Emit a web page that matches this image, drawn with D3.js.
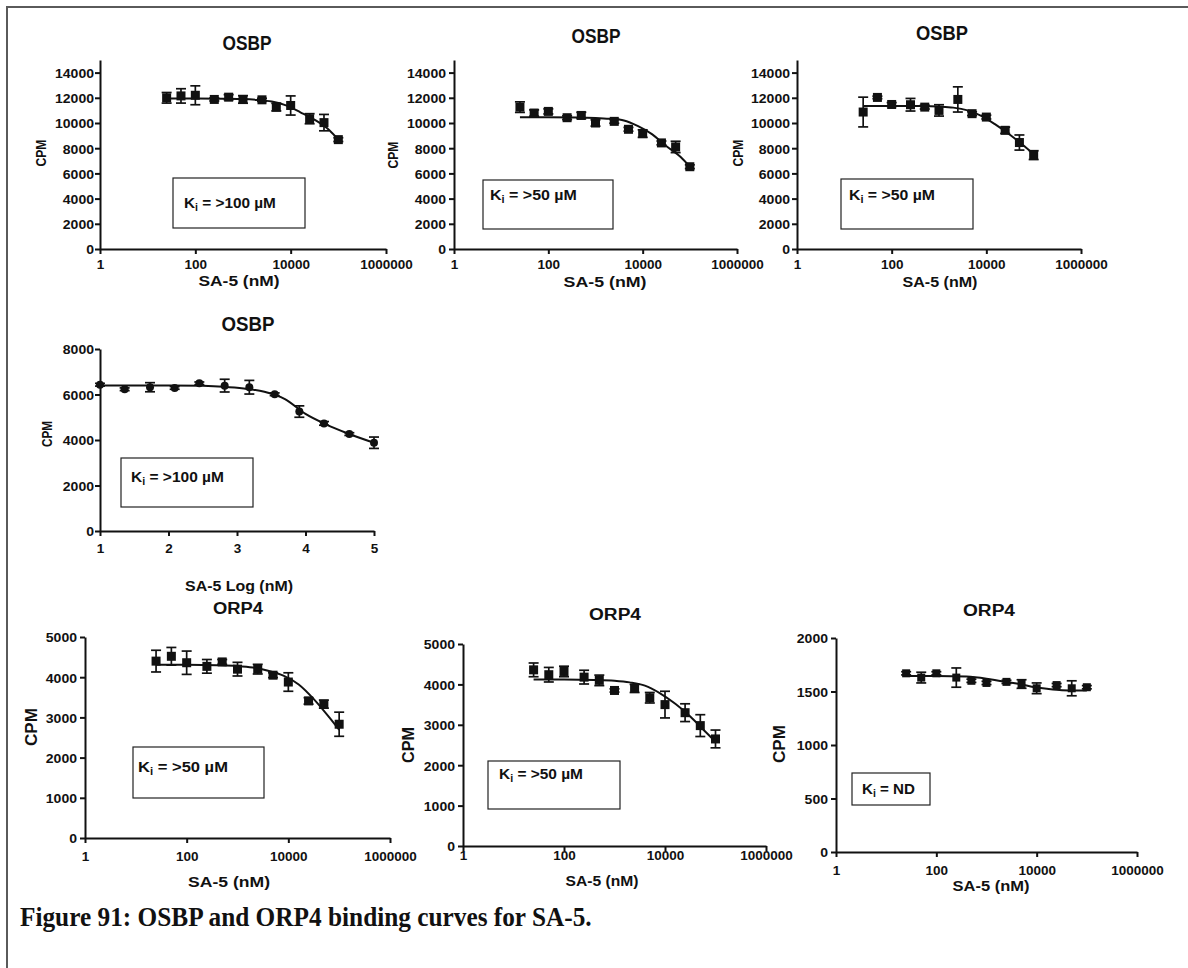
<!DOCTYPE html>
<html>
<head>
<meta charset="utf-8">
<script src="https://cdn.jsdelivr.net/npm/d3@7"></script>
<style>
  html, body { margin: 0; padding: 0; background: #fff; }
  svg { display: block; }
</style>
</head>
<body>
<svg id="fig" width="1188" height="968"></svg>
<script>
const SANS = "'Liberation Sans', Arial, Helvetica, sans-serif";
const SERIF = "'Liberation Serif', 'Times New Roman', serif";
const INK = "#111";

// Concentrations tested (nM) and their log10 values
const concNM = [25, 50, 100, 250, 500, 1000, 2500, 5000, 10000, 25000, 50000, 100000];
const logConcNM = [1.00, 1.36, 1.73, 2.09, 2.45, 2.82, 3.18, 3.55, 3.91, 4.27, 4.64, 5.00];

// x positions at which the fitted curves are traced
const fitConcNM = [25, 100, 400, 1000, 2000, 4000, 8000, 16000, 32000, 64000, 100000];
const fitLogConc = [1.0, 1.5, 2.0, 2.5, 2.8, 3.1, 3.4, 3.7, 4.0, 4.3, 4.6, 5.0];

// Axis ticks
const xTicksNM = [1, 100, 10000, 1000000];
const xTicksLog = [1, 2, 3, 4, 5];
const yTicksOSBP = [0, 2000, 4000, 6000, 8000, 10000, 12000, 14000];
const yTicksOSBPLog = [0, 2000, 4000, 6000, 8000];
const yTicksORP4 = [0, 1000, 2000, 3000, 4000, 5000];
const yTicksORP4Low = [0, 500, 1000, 1500, 2000];

// OSBP, run 1
const osbp1Cpm = [12000, 12150, 12200, 11870, 12050, 11870, 11840, 11260, 11390, 10340, 10030, 8680];
const osbp1Sem = [420, 570, 750, 120, 200, 300, 120, 300, 760, 400, 650, 150];
const osbp1Fit = [11950, 11950, 11930, 11900, 11830, 11700, 11400, 10850, 10250, 9450, 8680];

// OSBP, run 2
const osbp2Cpm = [11260, 10790, 10920, 10420, 10600, 10000, 10130, 9500, 9160, 8420, 8100, 6530];
const osbp2Sem = [420, 250, 200, 150, 250, 250, 150, 150, 300, 150, 450, 150];
const osbp2Fit = [10450, 10450, 10440, 10400, 10330, 10200, 9750, 9100, 8150, 7300, 6530];

// OSBP, run 3
const osbp3Cpm = [10870, 12030, 11470, 11450, 11260, 11000, 11870, 10740, 10470, 9420, 8450, 7450];
const osbp3Sem = [1180, 100, 150, 500, 150, 450, 1000, 150, 150, 250, 600, 350];
const osbp3Fit = [11350, 11350, 11340, 11300, 11220, 11000, 10550, 9850, 9050, 8150, 7530];

// OSBP, log-concentration run
const osbpLogCpm = [6430, 6230, 6320, 6290, 6490, 6390, 6320, 6010, 5250, 4730, 4260, 3880];
const osbpLogSem = [60, 60, 200, 60, 60, 280, 300, 60, 250, 80, 60, 250];
const osbpLogFit = [6400, 6400, 6400, 6380, 6340, 6260, 6120, 5800, 5150, 4690, 4310, 3880];

// ORP4, run 1
const orp41Cpm = [4400, 4520, 4360, 4270, 4380, 4200, 4200, 4050, 3880, 3410, 3330, 2830];
const orp41Sem = [270, 220, 290, 170, 60, 170, 120, 60, 230, 80, 100, 300];
const orp41Fit = [4310, 4310, 4300, 4280, 4240, 4160, 4040, 3820, 3450, 3000, 2690];

// ORP4, run 2
const orp42Cpm = [4360, 4240, 4320, 4180, 4100, 3850, 3900, 3670, 3500, 3300, 2980, 2650];
const orp42Sem = [170, 180, 130, 170, 130, 40, 100, 130, 330, 220, 270, 220];
const orp42Fit = [4120, 4120, 4110, 4090, 4050, 3970, 3780, 3520, 3200, 2820, 2580];

// ORP4, run 3
const orp43Cpm = [1670, 1630, 1670, 1630, 1600, 1580, 1590, 1570, 1530, 1560, 1530, 1540];
const orp43Sem = [15, 50, 15, 90, 15, 15, 15, 40, 50, 15, 70, 15];
const orp43Fit = [1645, 1645, 1640, 1620, 1595, 1575, 1545, 1525, 1512, 1510, 1510];

const panelTitles = ["OSBP", "OSBP", "OSBP", "OSBP", "ORP4", "ORP4", "ORP4"];
const kiValues = [">100 µM", ">50 µM", ">50 µM", ">100 µM", ">50 µM", ">50 µM", "ND"];
const xAxisTitles = ["SA-5 (nM)", "SA-5 (nM)", "SA-5 (nM)", "SA-5 Log (nM)", "SA-5 (nM)", "SA-5 (nM)", "SA-5 (nM)"];
const yAxisTitle = "CPM";
const caption = "Figure 91: OSBP and ORP4 binding curves for SA-5.";

// Panel layout: plot area, label placement and marker style
const panels = [
  { log: true, x: concNM, fx: fitConcNM, y: osbp1Cpm, e: osbp1Sem, fit: osbp1Fit, xTicks: xTicksNM, yTicks: yTicksOSBP, yMax: 15000,
    x0: 100, x1: 386, yB: 249, yT: 60, title: [247, 50, 20, 49], cpm: [41, 153, 15, 27], xlab: [239, 286, 15, 81],
    xTickBase: 269, yTickRight: 94, ki: [173, 178, 305, 228], kiText: [184, 208, 92], marker: "square", ms: 9 },
  { log: true, x: concNM, fx: fitConcNM, y: osbp2Cpm, e: osbp2Sem, fit: osbp2Fit, xTicks: xTicksNM, yTicks: yTicksOSBP, yMax: 15000,
    x0: 454, x1: 737, yB: 249, yT: 60, title: [596, 43, 20, 49], cpm: [393, 155, 15, 27], xlab: [605, 287, 15, 83],
    xTickBase: 269, yTickRight: 446, ki: [483, 180, 613, 229], kiText: [490, 200, 87], marker: "square", ms: 9 },
  { log: true, x: concNM, fx: fitConcNM, y: osbp3Cpm, e: osbp3Sem, fit: osbp3Fit, xTicks: xTicksNM, yTicks: yTicksOSBP, yMax: 15000,
    x0: 797, x1: 1081, yB: 249, yT: 60, title: [942, 40, 20, 52], cpm: [738, 153, 15, 27], xlab: [940, 287, 15, 75],
    xTickBase: 269, yTickRight: 790, ki: [841, 179, 973, 229], kiText: [849, 200, 86], marker: "square", ms: 9 },
  { log: false, x: logConcNM, fx: fitLogConc, y: osbpLogCpm, e: osbpLogSem, fit: osbpLogFit, xTicks: xTicksLog, yTicks: yTicksOSBPLog, yMax: 8000,
    x0: 100, x1: 374, yB: 531, yT: 349, title: [248, 331, 20, 53], cpm: [47, 434, 15, 26], xlab: [239, 591, 15, 108],
    xTickBase: 553, yTickRight: 94, ki: [121, 458, 253, 507], kiText: [131, 482, 93], marker: "circle", ms: 8 },
  { log: true, x: concNM, fx: fitConcNM, y: orp41Cpm, e: orp41Sem, fit: orp41Fit, xTicks: xTicksNM, yTicks: yTicksORP4, yMax: 5000,
    x0: 85, x1: 390, yB: 838, yT: 637, title: [238, 614, 17, 50], cpm: [31, 727, 16, 38], xlab: [229, 887, 15, 82],
    xTickBase: 861, yTickRight: 77, ki: [133, 747, 264, 798], kiText: [138, 772, 90], marker: "square", ms: 9 },
  { log: true, x: concNM, fx: fitConcNM, y: orp42Cpm, e: orp42Sem, fit: orp42Fit, xTicks: xTicksNM, yTicks: yTicksORP4, yMax: 5000,
    x0: 463, x1: 766, yB: 846, yT: 644, title: [615, 620, 17, 52], cpm: [408, 745, 16, 36], xlab: [602, 886, 15, 73],
    xTickBase: 860, yTickRight: 455, ki: [488, 761, 620, 809], kiText: [499, 779, 84], marker: "square", ms: 9 },
  { log: true, x: concNM, fx: fitConcNM, y: orp43Cpm, e: orp43Sem, fit: orp43Fit, xTicks: xTicksNM, yTicks: yTicksORP4Low, yMax: 2000,
    x0: 836, x1: 1137, yB: 852, yT: 638, title: [989, 616, 17, 52], cpm: [779, 744, 16, 38], xlab: [991, 891, 15, 77],
    xTickBase: 875, yTickRight: 828, ki: [852, 773, 930, 805], kiText: [862, 794, 53], marker: "square", ms: 8 }
];

const svg = d3.select("#fig");

// Bold label placed at (x, y), optionally rotated and stretched to a given width
function addText(parent, x, y, str, opts) {
  const g = parent.append("g")
    .attr("transform", `translate(${x},${y})` + (opts.rotate ? ` rotate(${opts.rotate})` : ""));
  const t = g.append("text")
    .attr("text-anchor", opts.anchor || "middle")
    .attr("font-family", opts.family || SANS)
    .attr("font-weight", "bold")
    .attr("font-size", opts.size)
    .attr("fill", INK)
    .text(str);
  if (opts.width) {
    const w = t.node().getComputedTextLength();
    if (w > 0) t.attr("transform", `scale(${opts.width / w},1)`);
  }
  return t;
}

// Figure frame (top and left rules)
svg.append("path")
  .attr("d", "M7,968V7H1188")
  .attr("fill", "none")
  .attr("stroke", "#5a5a5a")
  .attr("stroke-width", 2);

panels.forEach((p, i) => {
  const g = svg.append("g").attr("class", "panel");
  const x = (p.log ? d3.scaleLog() : d3.scaleLinear())
    .domain(p.log ? [1, 1e6] : [1, 5]).range([p.x0, p.x1]);
  const y = d3.scaleLinear().domain([0, p.yMax]).range([p.yB, p.yT]);

  // x axis
  const xa = g.append("g")
    .attr("transform", `translate(0,${p.yB})`)
    .call(d3.axisBottom(x).tickValues(p.xTicks).tickFormat(d3.format("d")).tickSize(5).tickSizeOuter(0));
  xa.selectAll("text")
    .attr("y", p.xTickBase - p.yB).attr("dy", null)
    .attr("font-family", SANS).attr("font-weight", "bold").attr("font-size", 13.5).attr("fill", INK);

  // y axis
  const ya = g.append("g")
    .attr("transform", `translate(${p.x0},0)`)
    .call(d3.axisLeft(y).tickValues(p.yTicks).tickFormat(d3.format("d")).tickSize(5).tickSizeOuter(0));
  ya.selectAll("text")
    .attr("x", null).attr("dy", "0.36em")
    .attr("font-family", SANS).attr("font-weight", "bold").attr("font-size", 13.5).attr("fill", INK)
    .attr("transform", `translate(${p.yTickRight - p.x0},0) scale(1.04,1)`);

  g.selectAll(".domain").attr("stroke", INK).attr("stroke-width", 2);
  g.selectAll(".tick line").attr("stroke", INK).attr("stroke-width", 2);

  // Ki annotation box
  const [bx0, by0, bx1, by1] = p.ki;
  g.append("rect")
    .attr("x", bx0).attr("y", by0).attr("width", bx1 - bx0).attr("height", by1 - by0)
    .attr("fill", "#fff").attr("stroke", "#222").attr("stroke-width", 1.2);
  const kg = g.append("g").attr("transform", `translate(${p.kiText[0]},${p.kiText[1]})`);
  const kt = kg.append("text")
    .attr("font-family", SANS).attr("font-weight", "bold").attr("font-size", 14.5).attr("fill", INK);
  kt.append("tspan").text("K");
  kt.append("tspan").attr("font-size", 10).attr("dy", 3).text("i");
  kt.append("tspan").attr("dy", -3).text(" = " + kiValues[i]);
  const kw = kt.node().getBBox().width;
  if (kw > 0) kt.attr("transform", `scale(${p.kiText[2] / kw},1)`);

  // fitted curve
  const curvePts = p.fx.map((c, j) => [c, p.fit[j]]);
  g.append("path")
    .datum(curvePts)
    .attr("fill", "none").attr("stroke", INK).attr("stroke-width", 2)
    .attr("d", d3.line().x(d => x(d[0])).y(d => y(d[1])).curve(d3.curveMonotoneX));

  // error bars
  const pts = p.x.map((c, j) => ({ c, v: p.y[j], e: p.e[j] }));
  const eb = g.append("g").attr("stroke", INK).attr("stroke-width", 1.7);
  pts.forEach(d => {
    const cx = x(d.c), yHi = y(d.v + d.e), yLo = y(d.v - d.e);
    eb.append("line").attr("x1", cx).attr("x2", cx).attr("y1", yHi).attr("y2", yLo);
    eb.append("line").attr("x1", cx - 5).attr("x2", cx + 5).attr("y1", yHi).attr("y2", yHi);
    eb.append("line").attr("x1", cx - 5).attr("x2", cx + 5).attr("y1", yLo).attr("y2", yLo);
  });

  // markers
  if (p.marker === "circle") {
    g.append("g").selectAll("circle").data(pts).join("circle")
      .attr("cx", d => x(d.c)).attr("cy", d => y(d.v)).attr("r", p.ms / 2).attr("fill", INK);
  } else {
    g.append("g").selectAll("rect").data(pts).join("rect")
      .attr("x", d => x(d.c) - p.ms / 2).attr("y", d => y(d.v) - p.ms / 2)
      .attr("width", p.ms).attr("height", p.ms).attr("fill", INK);
  }

  // titles
  addText(g, p.title[0], p.title[1], panelTitles[i], { size: p.title[2], width: p.title[3] });
  addText(g, p.cpm[0] + p.cpm[2] * 0.36, p.cpm[1], yAxisTitle, { size: p.cpm[2], width: p.cpm[3], rotate: -90 });
  addText(g, p.xlab[0], p.xlab[1], xAxisTitles[i], { size: p.xlab[2], width: p.xlab[3] });
});

// Figure caption
addText(svg, 20, 926, caption, { anchor: "start", family: SERIF, size: 28, width: 572 });
</script>
</body>
</html>
